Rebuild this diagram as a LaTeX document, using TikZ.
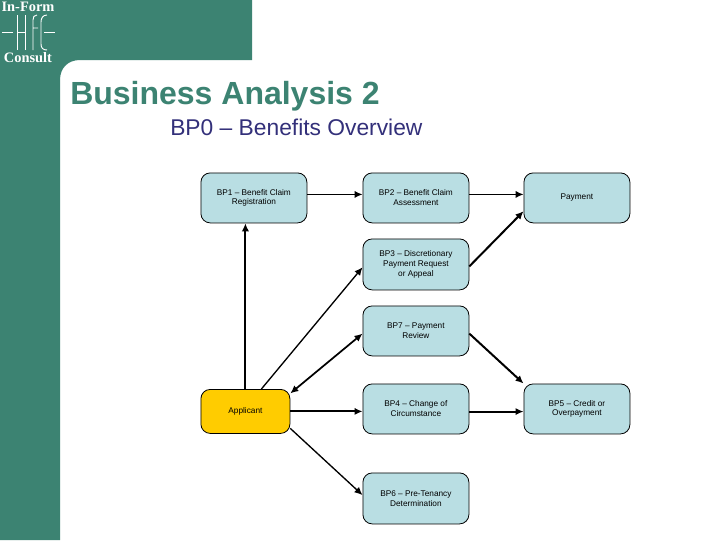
\documentclass[tikz,border=0pt]{standalone}
\usepackage{fontspec}
\setmainfont{Liberation Sans}
\newfontfamily\logofont{Liberation Serif}
\usetikzlibrary{arrows.meta}
\definecolor{teal1}{HTML}{3C8372}
\definecolor{boxfill}{HTML}{B9DEE3}
\definecolor{appfill}{HTML}{FFCC00}
\definecolor{subcol}{HTML}{33307A}
\tikzset{
  bx/.style={draw=black,line width=0.6pt,rounded corners=7pt,fill=boxfill,inner sep=0pt,align=center,
    font=\fontsize{6.2}{7.4}\selectfont,anchor=north west,minimum width=79.5pt,minimum height=37.5pt},
  con/.style={draw=black,line width=1.5pt,-{Latex[length=6pt,width=5.5pt]}},
  thincon/.style={draw=black,line width=1pt,-{Latex[length=6pt,width=5.5pt]}},
  con2/.style={draw=black,line width=1.3pt,{Latex[length=6pt,width=5.5pt]}-{Latex[length=6pt,width=5.5pt]}},
  logotext/.style={text=white,font=\logofont\bfseries\fontsize{10.8}{12}\selectfont,inner sep=0pt},
  logoline/.style={draw=white,line width=0.7pt}
}
\begin{document}
\begin{tikzpicture}[x=0.75pt,y=-0.75pt]
\useasboundingbox (0,0) rectangle (720,540);
\fill[white] (0,0) rectangle (720,540);
\fill[teal1] (0,0) -- (252,0) -- (252,60) -- (80,60) .. controls (68,60) and (60,68) .. (60,80) -- (60,540) -- (0,540) -- cycle;
% logo
\node[logotext] (lg1) at (28,7) {In-Form};
\node[logotext] (lg2) at (28,58) {Consult};
\draw[logoline] (2,32) -- (13,32) (17,15) -- (17,50) (17,32) -- (25,32) (25,15) -- (25,50);
\draw[logoline] (33,50) -- (33,20) .. controls (33,17) and (34,15) .. (37,15) (33,28) -- (38,28);
\draw[logoline] (47,15) .. controls (43,15) and (41,18) .. (41,22) -- (41,44) .. controls (41,48) and (43,50) .. (47,50);
\draw[logoline] (44,32) -- (55,32);
% titles
\node[anchor=base west,inner sep=0pt,text=teal1,font=\bfseries\fontsize{24}{28}\selectfont] (title) at (70,104) {Business Analysis 2};
\node[anchor=base west,inner sep=0pt,text=subcol,font=\fontsize{17.1}{20}\selectfont] (sub) at (170,135) {BP0 -- Benefits Overview};
% boxes
\node[bx] (bp1) at (200.5,172.5) {BP1 -- Benefit Claim\\Registration};
\node[bx] (bp2) at (362.5,172.5) {BP2 -- Benefit Claim\\Assessment};
\node[bx] (pay) at (523.5,172.5) {Payment};
\node[bx,minimum height=38.25pt] (bp3) at (362.5,238.5) {BP3 -- Discretionary\\Payment Request\\or Appeal};
\node[bx] (bp7) at (362.5,305.5) {BP7 -- Payment\\Review};
\node[bx,fill=appfill,minimum width=66.75pt,minimum height=33pt] (app) at (200.5,389) {Applicant};
\node[bx] (bp4) at (362.5,383.5) {BP4 -- Change of\\Circumstance};
\node[bx] (bp5) at (523.5,383.5) {BP5 -- Credit or\\Overpayment};
\node[bx,minimum height=38.25pt] (bp6) at (362.5,472.5) {BP6 -- Pre-Tenancy\\Determination};
% connectors
\draw[thincon] ([yshift=2.6pt]bp1.east) -- ([yshift=2.6pt]bp2.west);
\draw[thincon] ([yshift=2.6pt]bp2.east) -- ([yshift=2.6pt]pay.west);
\draw[con] ([yshift=-1.5pt]bp3.east) -- ([yshift=-10pt]pay.west);
\draw[con] (app.north) -- (app.north |- bp1.south);
\draw[thincon] ([xshift=12pt]app.north) -- ([yshift=-2.2pt]bp3.west);
\draw[con2] ([yshift=-2pt]bp7.west) -- ([yshift=13.5pt]app.east);
\draw[con] ([yshift=-2pt]bp7.east) -- (bp5.north west);
\draw[con] (app.east) -- (app.east -| bp4.west);
\draw[con] ([yshift=-2pt]bp4.east) -- ([yshift=-2pt]bp5.west);
\draw[thincon] ([yshift=-12.75pt]app.east) -- ([yshift=2.5pt]bp6.west);
\end{tikzpicture}
\end{document}
